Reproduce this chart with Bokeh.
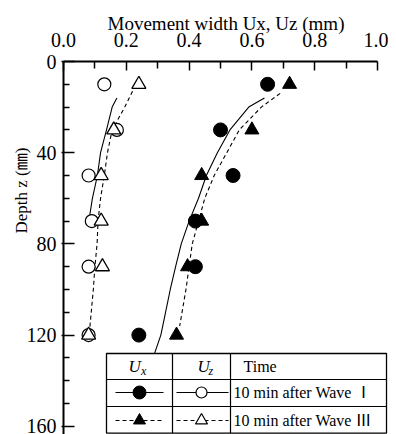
from bokeh.plotting import figure
from bokeh.models import Range1d, FixedTicker, LinearAxis
from bokeh.core.properties import value
from bokeh.embed import file_html
from bokeh.resources import INLINE

# ---------------- data ----------------
depth = [10, 30, 50, 70, 90, 120]                 # Depth z (mm)
ux_wave1 = [0.65, 0.50, 0.54, 0.42, 0.42, 0.24]   # Ux, 10 min after Wave I (filled circle)
ux_wave3 = [0.72, 0.60, 0.44, 0.44, 0.395, 0.36]  # Ux, 10 min after Wave III (filled triangle)
uz_wave1 = [0.13, 0.17, 0.08, 0.09, 0.08, 0.08]   # Uz, 10 min after Wave I (open circle)
uz_wave3 = [0.24, 0.16, 0.12, 0.12, 0.124, 0.08]  # Uz, 10 min after Wave III (open triangle)

# fitted curves
fit_ux1_z = [16, 20, 30, 40, 50, 60, 70, 80, 90, 100, 110, 120, 128]
fit_ux1_u = [0.64, 0.59, 0.53, 0.49, 0.455, 0.43, 0.40, 0.375, 0.357, 0.34, 0.325, 0.31, 0.29]
fit_ux3_z = [14, 20, 30, 40, 50, 60, 70, 80, 90, 100, 116]
fit_ux3_u = [0.69, 0.63, 0.56, 0.52, 0.48, 0.45, 0.43, 0.41, 0.40, 0.39, 0.37]
fit_uz1_z = [16, 20, 30, 40, 50, 60, 68]
fit_uz1_u = [0.17, 0.155, 0.137, 0.118, 0.108, 0.092, 0.083]
fit_uz3_z = [13, 20, 30, 40, 50, 60, 70, 80, 90, 100, 118]
fit_uz3_u = [0.22, 0.195, 0.155, 0.14, 0.13, 0.118, 0.11, 0.107, 0.10, 0.095, 0.083]

x_major = [0.0, 0.2, 0.4, 0.6, 0.8, 1.0]
x_minor = [0.1, 0.3, 0.5, 0.7, 0.9]
y_major = [0, 40, 80, 120, 160]
y_minor = [10, 20, 30, 50, 60, 70, 90, 100, 110, 130, 140, 150]
x_title = "Movement width Ux, Uz (mm)"
y_title = "Depth z (\u339c)"
row_labels = ["10 min after Wave \u2160", "10 min after Wave \u2162"]

# ---------------- layout helpers (canvas pixel -> data) ----------------
X0, XS = 63.0, 314.0
Y0, YS = 61.0, 2.28
W, H = 388, 434
def px(x):
    return (x - X0) / XS
def py(y):
    return (y - Y0) / YS

SERIF = "'Liberation Serif', 'Noto Sans CJK JP', serif"

p = figure(width=W, height=H,
           x_range=Range1d(0, 1.035), y_range=Range1d(163.6, 0),
           x_axis_location="above", output_backend="svg", toolbar_location=None,
           min_border_left=63, min_border_right=0, min_border_top=61, min_border_bottom=0)
p.outline_line_color = None
p.grid.visible = False
p.background_fill_color = "white"
p.border_fill_color = "white"

xa = p.xaxis[0]
xa.ticker = FixedTicker(ticks=x_major, minor_ticks=x_minor)
xa.bounds = (0, 1)
xa.major_label_overrides = {v: f"{v:.1f}" for v in x_major}
xa.axis_line_width = 2
xa.major_tick_line_width = 1.5
xa.minor_tick_line_width = 1.5
xa.major_tick_in = 9
xa.major_tick_out = 0
xa.minor_tick_in = 7
xa.minor_tick_out = 0
xa.major_label_standoff = 15
xa.major_label_text_font = SERIF
xa.major_label_text_font_size = "20px"
xa.major_label_text_color = "black"

ya = p.yaxis[0]
ya.ticker = FixedTicker(ticks=y_major, minor_ticks=y_minor)
ya.axis_line_width = 2
ya.major_tick_line_width = 1.5
ya.minor_tick_line_width = 1.5
ya.major_tick_in = 11
ya.major_tick_out = 2
ya.minor_tick_in = 6
ya.minor_tick_out = 0
ya.major_label_standoff = 5
ya.major_label_text_font = SERIF
ya.major_label_text_font_size = "20px"
ya.major_label_text_color = "black"

# title axes (label only), placed outside the tick-label axes
def title_axis(text, size, standoff):
    return LinearAxis(ticker=FixedTicker(ticks=[]), axis_label=text,
                      axis_line_color=None, major_tick_line_color=None, minor_tick_line_color=None,
                      major_tick_out=0, major_tick_in=0, minor_tick_out=0, minor_tick_in=0,
                      major_label_standoff=0,
                      axis_label_text_font=SERIF, axis_label_text_font_size=size,
                      axis_label_text_font_style="normal", axis_label_text_color="black",
                      axis_label_standoff=standoff)

p.add_layout(title_axis(x_title, "19px", -4), "above")
# the y title sits above the middle of the axis: pad its start with no-break spaces
p.add_layout(title_axis("\u00a0" * 27 + y_title, "17px", -7), "left")

# ---------------- fitted curves ----------------
p.line(fit_ux1_u, fit_ux1_z, line_color="black", line_width=1.1)
p.line(fit_ux3_u, fit_ux3_z, line_color="black", line_width=1.1, line_dash="4 3")
p.line(fit_uz1_u, fit_uz1_z, line_color="black", line_width=1.1)
p.line(fit_uz3_u, fit_uz3_z, line_color="black", line_width=1.1, line_dash="4 3")

# ---------------- points ----------------
p.scatter(uz_wave1, depth, marker="circle", size=13, fill_color="white", line_color="black", line_width=1.2)
p.scatter(uz_wave3, depth, marker="triangle", size=14, fill_color="white", line_color="black", line_width=1.3)
p.scatter(ux_wave1, depth, marker="circle", size=14, fill_color="black", line_color="black")
p.scatter(ux_wave3, depth, marker="triangle", size=14, fill_color="black", line_color="black")

# ---------------- legend table ----------------
tl, c1, c2, tr = 106, 172, 230, 386
tt, r1, r2, tb = 353, 379, 406, 432.6
p.quad(left=[px(tl)], right=[px(tr)], top=[py(tt)], bottom=[py(tb)],
       fill_color="white", line_color="black", line_width=1.3)
p.segment(x0=[px(c1), px(c2), px(tl), px(tl)], y0=[py(tt), py(tt), py(r1), py(r2)],
          x1=[px(c1), px(c2), px(tr), px(tr)], y1=[py(tb), py(tb), py(r1), py(r2)],
          line_color="black", line_width=1.2)

y_row1, y_row2, y_head = 392, 420, 366
p.line([px(115), px(163)], [py(y_row1)] * 2, line_color="black", line_width=1.1)
p.line([px(176), px(228)], [py(y_row1)] * 2, line_color="black", line_width=1.1)
p.line([px(115), px(163)], [py(y_row2)] * 2, line_color="black", line_width=1.1, line_dash="4 3")
p.line([px(176), px(228)], [py(y_row2)] * 2, line_color="black", line_width=1.1, line_dash="4 3")
p.scatter([px(139)], [py(y_row1)], marker="circle", size=13, fill_color="black", line_color="black")
p.scatter([px(201)], [py(y_row1)], marker="circle", size=11, fill_color="white", line_color="black", line_width=1.2)
p.scatter([px(139)], [py(y_row2)], marker="triangle", size=12, fill_color="black", line_color="black")
p.scatter([px(201)], [py(y_row2)], marker="triangle", size=12, fill_color="white", line_color="black", line_width=1.2)

p.text(x=[px(128), px(197)], y=[py(y_head), py(y_head)], text=["U", "U"],
       text_font=value(SERIF), text_font_style="italic", text_font_size=value("17px"),
       text_align="left", text_baseline="middle", text_color="black")
p.text(x=[px(140.5), px(208)], y=[py(y_head + 5), py(y_head + 5)], text=["x", "z"],
       text_font=value(SERIF), text_font_style="italic", text_font_size=value("12px"),
       text_align="left", text_baseline="middle", text_color="black")
p.text(x=[px(243), px(233), px(233)], y=[py(y_head), py(y_row1), py(y_row2)],
       text=["Time"] + row_labels,
       text_font=value(SERIF), text_font_size=value("16px"),
       text_align="left", text_baseline="middle", text_color="black")

open("out.html", "w").write(file_html(p, INLINE))
